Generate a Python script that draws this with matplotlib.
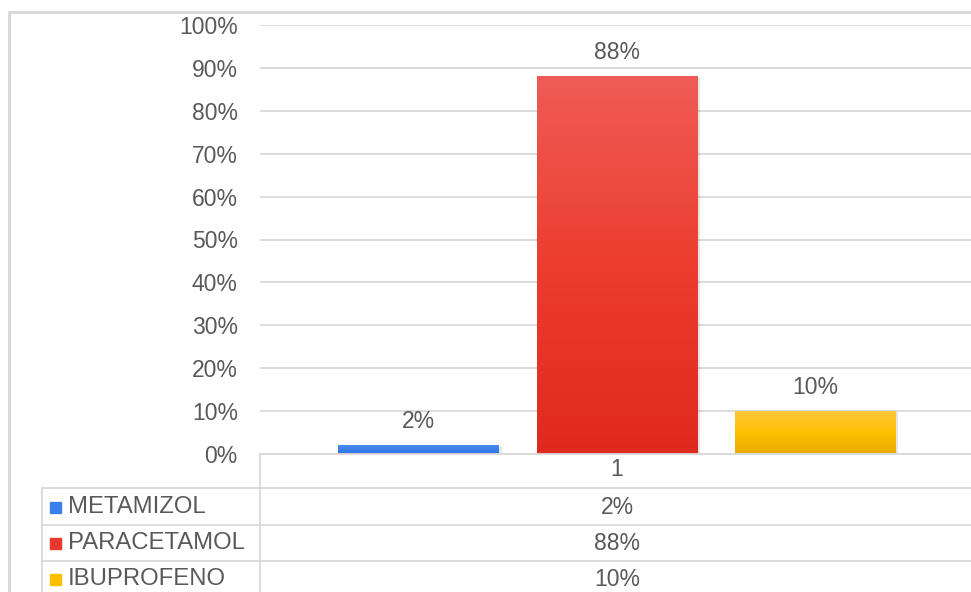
import matplotlib.pyplot as plt
import numpy as np
from matplotlib.colors import LinearSegmentedColormap
from matplotlib.lines import Line2D
from matplotlib.patches import Rectangle
import matplotlib.patheffects as pe

# datos
labels = ['METAMIZOL', 'PARACETAMOL', 'IBUPROFENO']
values = [2, 88, 10]
category = '1'
yticks = [0, 10, 20, 30, 40, 50, 60, 70, 80, 90, 100]

# colores (arriba, medio, abajo) para el degradado
grads = [['#4A8CF2', '#3B7FEA', '#2F72DE'],
         ['#EF5C56', '#EC3D2F', '#E0291E'],
         ['#FFC53D', '#FFC000', '#E8AC00']]
keys = ['#3C7FEA', '#E8382B', '#FFC000']
gray = '#D9D9D9'
txt = '#595959'

plt.rcParams['font.family'] = ['Liberation Sans', 'DejaVu Sans']

W, H = 971, 592
fig = plt.figure(figsize=(W / 100, H / 100), dpi=100)


def fx(x):
    return x / W


def fy(y):
    return 1 - y / H


# area del grafico en pixeles
left, right, top, bottom = 260, 974, 25, 454
ax = fig.add_axes([fx(left), fy(bottom), fx(right - left), (bottom - top) / H])

pos = np.array([-1, 0, 1])
bars = ax.bar(pos, values, width=0.81, color='none', zorder=3)
for b, g, v in zip(bars, grads, values):
    b.set_path_effects([pe.SimplePatchShadow(offset=(2, -1), shadow_rgbFace='#000000', alpha=0.1),
                        pe.Normal()])
    cmap = LinearSegmentedColormap.from_list('g', g[::-1])
    grad = np.linspace(0, 1, 256).reshape(-1, 1)
    im = ax.imshow(grad, cmap=cmap, aspect='auto', origin='lower',
                   extent=[b.get_x(), b.get_x() + b.get_width(), 0, v], zorder=4)
    im.set_clip_path(b)
    ax.annotate(f'{v}%', (b.get_x() + b.get_width() / 2, v), xytext=(0, 17),
                textcoords='offset points', ha='center', va='center',
                fontsize=16.5, color=txt)

ax.set_xlim(-1.8, 1.8)
ax.set_ylim(0, 100)
ax.set_yticks(yticks)
ax.set_yticklabels([f'{t}%' for t in yticks], fontsize=16.5, color=txt)
ax.set_xticks([])
ax.tick_params(axis='y', length=0, pad=16)
ax.grid(axis='y', color=gray, linewidth=1.3, zorder=0)
for s in ax.spines.values():
    s.set_visible(False)

# borde exterior
fig.add_artist(Line2D([fx(9), fx(9)], [fy(12), 0], color=gray, lw=2.2))
fig.add_artist(Line2D([fx(9), 1], [fy(12), fy(12)], color=gray, lw=2.2))

# tabla de datos
row_lines = [454, 488, 525, 561]
for i, y in enumerate(row_lines):
    x0 = left if i == 0 else 42
    fig.add_artist(Line2D([fx(x0), 1], [fy(y), fy(y)], color=gray, lw=1.3))
fig.add_artist(Line2D([fx(left), fx(left)], [fy(454), 0], color=gray, lw=1.3))
fig.add_artist(Line2D([fx(42), fx(42)], [fy(488), 0], color=gray, lw=1.3))

cx = 617
fig.text(fx(cx), fy(470), category, ha='center', va='center', fontsize=16.5, color=txt)
row_c = [507, 543, 579]
for lab, v, k, yc in zip(labels, values, keys, row_c):
    fig.add_artist(Rectangle((fx(50), fy(yc + 6)), fx(11), 11 / H, color=k))
    fig.text(fx(68), fy(yc), lab, ha='left', va='center', fontsize=17.2, color=txt)
    fig.text(fx(cx), fy(yc), f'{v}%', ha='center', va='center', fontsize=16.5, color=txt)

plt.savefig('out.png', dpi=100)
